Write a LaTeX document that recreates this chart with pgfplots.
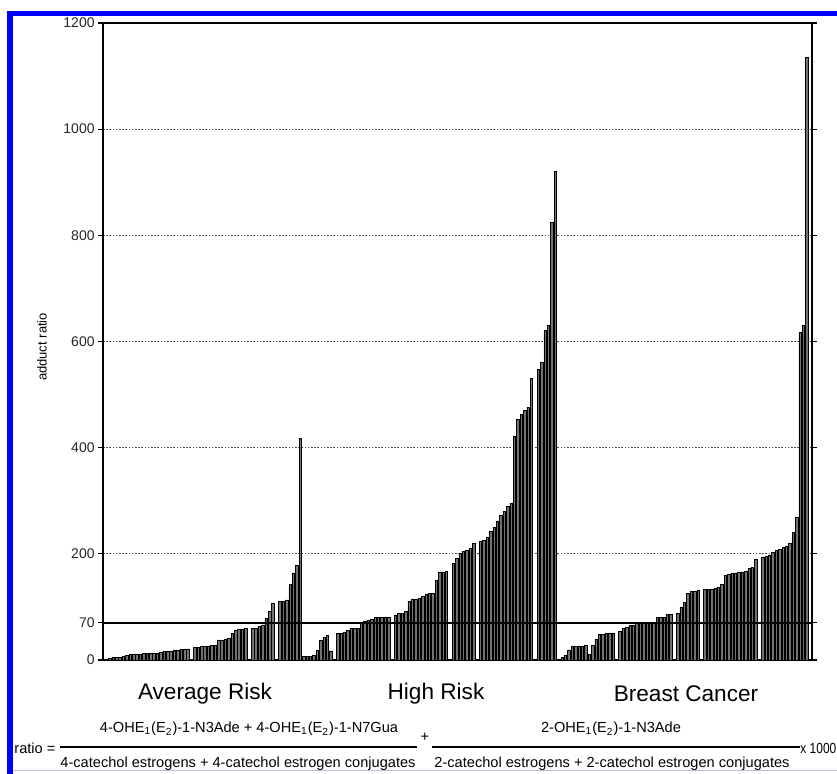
\documentclass[border=0pt]{standalone}
\usepackage{fontspec}
\setmainfont{Liberation Sans}
\usepackage{pgfplots}
\usepackage{pgfplotstable}
\pgfplotsset{compat=1.18}
\newcommand{\PX}{0.5pt}
\pgfplotstableread{
x y
1 2
2 3
3 5
4 5
5 5
6 6
7 9
8 10
9 10
10 11
11 11
12 12
13 12
14 13
15 13
16 13
17 14
18 16
19 16
20 17
21 18
22 19
23 20
24 21
25 21
27 23
28 24
29 25
30 25
31 26
32 27
33 27
34 38
35 38
36 39
37 40
38 50
39 56
40 57
41 58
42 59
44 59
45 60
46 64
47 66
48 78
49 91
50 106
52 110
53 111
54 113
55 142
56 164
57 178
58 417
}\avgdata
\pgfplotstableread{
x y
59 6
60 7
61 7
62 9
63 18
64 38
65 43
66 46
67 17
69 50
70 50
71 53
72 55
73 59
74 59
75 59
76 69
77 72
78 74
79 76
80 80
81 80
82 80
83 81
84 81
86 85
87 88
88 88
89 92
90 110
91 115
92 115
93 117
94 120
95 123
96 125
97 125
98 150
99 166
100 166
101 167
103 182
104 191
105 201
106 204
107 207
108 210
109 220
111 223
112 226
113 232
114 242
115 250
116 262
117 272
118 280
119 289
120 296
121 422
122 454
123 463
124 470
125 476
126 530
128 548
129 561
130 621
131 631
132 825
133 921
}\highdata
\pgfplotstableread{
x y
135 5
136 8
137 19
138 25
139 25
140 25
141 25
142 27
143 10
144 27
145 39
146 48
147 48
148 51
149 51
150 51
152 54
153 59
154 62
155 65
156 65
157 69
158 69
159 69
160 69
161 70
162 71
163 80
164 80
165 80
166 86
167 86
169 88
170 100
171 108
172 125
173 129
174 130
175 131
177 133
178 133
179 134
180 135
181 137
182 143
183 159
184 162
185 163
186 164
187 165
188 166
189 168
190 172
191 175
192 190
194 194
195 195
196 197
197 203
198 206
199 209
200 212
201 215
202 219
203 241
204 269
205 617
206 630
207 1135
}\bcdata
\begin{document}
\begin{tikzpicture}
\useasboundingbox (0,0) rectangle (837*\PX,774*\PX);
% partial blue frame
\fill[blue] (7*\PX,0) rectangle (13*\PX,763*\PX);
\fill[blue] (7*\PX,758*\PX) rectangle (837*\PX,763*\PX);
\draw[blue!30!gray!40, line width=1*\PX] (13*\PX,3*\PX) -- (837*\PX,3*\PX);
\begin{axis}[
  at={(103*\PX,114*\PX)}, anchor=south west,
  scale only axis, width=709*\PX, height=637*\PX,
  xmin=0, xmax=208.5, ymin=0, ymax=1200,
  axis line style={line width=0.8pt, black},
  xtick=\empty,
  ytick={0,70,200,400,600,800,1000,1200},
  yticklabels={0,70,200,400,600,800,1000,1200},
  tick align=outside,
  major tick length=5*\PX,
  tick style={black, line width=0.6pt},
  /pgf/number format/assume math mode=true,
  yticklabel style={font=\fontsize{7}{8}\selectfont, text=black!85, inner sep=1.5pt},
  ymajorgrids,
  grid style={black!70, line width=0.5pt, dash pattern=on 0.8pt off 0.8pt},
]
\addplot[ybar, bar shift=0pt, bar width=0.72, fill=black!55, draw=black, line width=0.3pt] table[x=x,y=y] {\avgdata};
\addplot[ybar, bar shift=0pt, bar width=0.72, fill=black!55, draw=black, line width=0.3pt] table[x=x,y=y] {\highdata};
\addplot[ybar, bar shift=0pt, bar width=0.72, fill=black!55, draw=black, line width=0.3pt] table[x=x,y=y] {\bcdata};
\addplot[black, line width=1.3pt, mark=none] coordinates {(0,70) (208.5,70)};
\end{axis}
\node[rotate=90, font=\fontsize{6.5}{8}\selectfont] at (42*\PX,427*\PX) {adduct ratio};
\node[font=\fontsize{11.3}{13}\selectfont] at (205*\PX,80*\PX) {Average Risk};
\node[font=\fontsize{11.3}{13}\selectfont] at (436*\PX,80*\PX) {High Risk};
\node[font=\fontsize{11.3}{13}\selectfont] at (686*\PX,80*\PX) {Breast Cancer};
% formula
\begin{scope}[every node/.style={font=\fontsize{7.3}{9}\selectfont, inner sep=0pt}]
\node[anchor=west] at (14*\PX,26*\PX) {ratio =};
\draw[line width=0.6pt] (60*\PX,27*\PX) -- (417*\PX,27*\PX);
\node at (249*\PX,45*\PX) {4-OHE\textsubscript{1}(E\textsubscript{2})-1-N3Ade + 4-OHE\textsubscript{1}(E\textsubscript{2})-1-N7Gua};
\node at (238*\PX,10*\PX) {4-catechol estrogens + 4-catechol estrogen conjugates};
\node at (425*\PX,37*\PX) {+};
\draw[line width=0.6pt] (432*\PX,27*\PX) -- (800*\PX,27*\PX);
\node at (611*\PX,45*\PX) {2-OHE\textsubscript{1}(E\textsubscript{2})-1-N3Ade};
\node at (612*\PX,10*\PX) {2-catechol estrogens + 2-catechol estrogen conjugates};
\node[anchor=west] at (800*\PX,26*\PX) {\scalebox{0.82}[1]{x 1000}};
\end{scope}
\end{tikzpicture}
\end{document}
